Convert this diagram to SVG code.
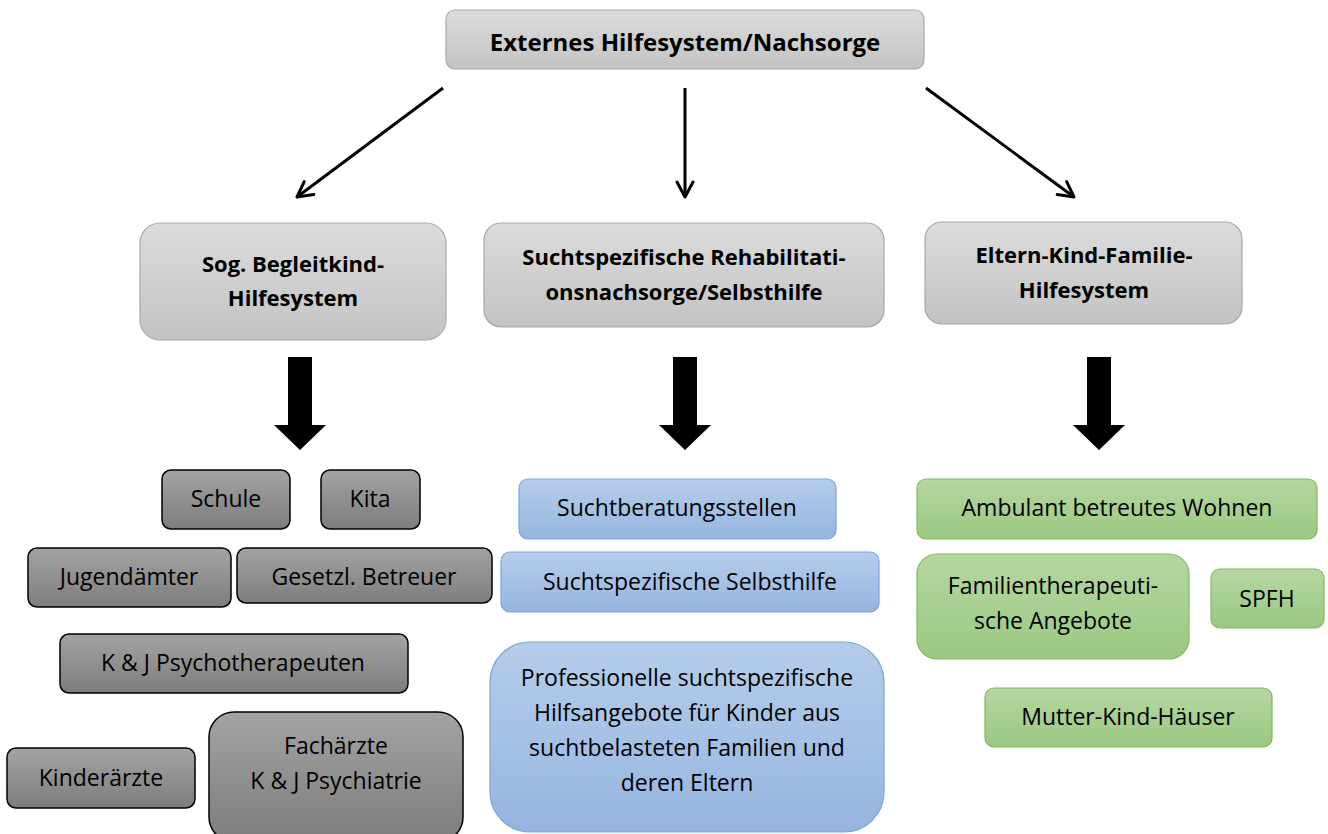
<svg xmlns="http://www.w3.org/2000/svg" width="1328" height="834" viewBox="0 0 1328 834">
<defs>
<linearGradient id="gLight" x1="0" y1="0" x2="0" y2="1"><stop offset="0" stop-color="#dcdcdc"/><stop offset="1" stop-color="#c3c3c3"/></linearGradient>
<linearGradient id="gDark" x1="0" y1="0" x2="0" y2="1"><stop offset="0" stop-color="#a3a3a3"/><stop offset="1" stop-color="#7d7d7d"/></linearGradient>
<linearGradient id="gBlue" x1="0" y1="0" x2="0" y2="1"><stop offset="0" stop-color="#b6cdea"/><stop offset="1" stop-color="#95b5e0"/></linearGradient>
<linearGradient id="gGreen" x1="0" y1="0" x2="0" y2="1"><stop offset="0" stop-color="#b5d7a2"/><stop offset="1" stop-color="#9bc881"/></linearGradient>
<marker id="open" viewBox="0 0 20 20" refX="17" refY="10" markerWidth="20" markerHeight="20" markerUnits="userSpaceOnUse" orient="auto">
<path d="M2,2 L17,10 L2,18" fill="none" stroke="#000" stroke-width="3" stroke-linecap="round" stroke-linejoin="round"/>
</marker>
<path id="block" d="M-12,0 H12 V68 H26 L0,93 L-26,68 H-12 Z"/>
</defs>
<style>
text{font-family:"Open Sans","Liberation Sans",sans-serif;fill:#000;text-anchor:middle}
.h{font-weight:bold;font-size:22px}
.ht{font-weight:bold;font-size:24px}
.t{font-size:23px}
.light{fill:url(#gLight);stroke:#a9a9a9;stroke-width:1.2}
.dark{fill:url(#gDark);stroke:#000;stroke-width:1.5}
.blue{fill:url(#gBlue);stroke:#7aa5dc;stroke-width:1.2}
.green{fill:url(#gGreen);stroke:#7fbb5c;stroke-width:1.2}
.conn{stroke:#000;stroke-width:3;fill:none}
</style>
<rect width="1328" height="834" fill="#fff"/>
<g id="connectors">
<line class="conn" x1="443" y1="88" x2="297" y2="197" marker-end="url(#open)"/>
<line class="conn" x1="685" y1="88" x2="685" y2="197" marker-end="url(#open)"/>
<line class="conn" x1="926" y1="88" x2="1074" y2="197" marker-end="url(#open)"/>
<use href="#block" x="300" y="357"/>
<use href="#block" x="685" y="357"/>
<use href="#block" x="1099" y="357"/>
</g>
<g id="top"><rect class="light" x="446" y="10" width="478" height="59" rx="9"/><text class="ht" x="685" y="51">Externes Hilfesystem/Nachsorge</text></g>
<g id="begleitkind"><rect class="light" x="140" y="223" width="306" height="117" rx="20"/><text class="h" x="293" y="272">Sog. Begleitkind-</text><text class="h" x="293" y="306">Hilfesystem</text></g>
<g id="rehanachsorge"><rect class="light" x="484" y="223" width="400" height="104" rx="17"/><text class="h" x="684" y="265">Suchtspezifische Rehabilitati-</text><text class="h" x="684" y="300">onsnachsorge/Selbsthilfe</text></g>
<g id="elternkind"><rect class="light" x="925" y="222" width="317" height="102" rx="17"/><text class="h" x="1084" y="263">Eltern-Kind-Familie-</text><text class="h" x="1084" y="298">Hilfesystem</text></g>
<g id="schule"><rect class="dark" x="162" y="470" width="128" height="59" rx="9"/><text class="t" x="226" y="507">Schule</text></g>
<g id="kita"><rect class="dark" x="321" y="470" width="99" height="59" rx="9"/><text class="t" x="370" y="507">Kita</text></g>
<g id="jugendaemter"><rect class="dark" x="28" y="548" width="203" height="59" rx="9"/><text class="t" x="129" y="585">Jugendämter</text></g>
<g id="betreuer"><rect class="dark" x="237" y="548" width="255" height="55" rx="9"/><text class="t" x="364" y="585">Gesetzl. Betreuer</text></g>
<g id="psychotherapeuten"><rect class="dark" x="60" y="634" width="348" height="59" rx="9"/><text class="t" x="233" y="671">K &amp; J Psychotherapeuten</text></g>
<g id="kinderaerzte"><rect class="dark" x="7" y="748" width="188" height="60" rx="9"/><text class="t" x="101" y="786">Kinderärzte</text></g>
<g id="fachaerzte"><rect class="dark" x="209" y="712" width="254" height="130" rx="25"/><text class="t" x="336" y="754">Fachärzte</text><text class="t" x="336" y="789">K &amp; J Psychiatrie</text></g>
<g id="suchtberatung"><rect class="blue" x="519" y="479" width="317" height="60" rx="9"/><text class="t" x="677" y="516">Suchtberatungsstellen</text></g>
<g id="selbsthilfe"><rect class="blue" x="501" y="552" width="378" height="60" rx="9"/><text class="t" x="690" y="590">Suchtspezifische Selbsthilfe</text></g>
<g id="professionelle"><rect class="blue" x="490" y="642" width="394" height="190" rx="40"/><text class="t" x="687" y="686">Professionelle suchtspezifische</text><text class="t" x="687" y="721">Hilfsangebote für Kinder aus</text><text class="t" x="687" y="756">suchtbelasteten Familien und</text><text class="t" x="687" y="791">deren Eltern</text></g>
<g id="ambulant"><rect class="green" x="917" y="479" width="400" height="60" rx="9"/><text class="t" x="1117" y="516">Ambulant betreutes Wohnen</text></g>
<g id="familien"><rect class="green" x="917" y="554" width="272" height="105" rx="20"/><text class="t" x="1053" y="594">Familientherapeuti-</text><text class="t" x="1053" y="629">sche Angebote</text></g>
<g id="spfh"><rect class="green" x="1211" y="569" width="113" height="59" rx="9"/><text class="t" x="1267" y="607">SPFH</text></g>
<g id="mutterkind"><rect class="green" x="985" y="688" width="287" height="59" rx="9"/><text class="t" x="1128" y="725">Mutter-Kind-Häuser</text></g>
</svg>
